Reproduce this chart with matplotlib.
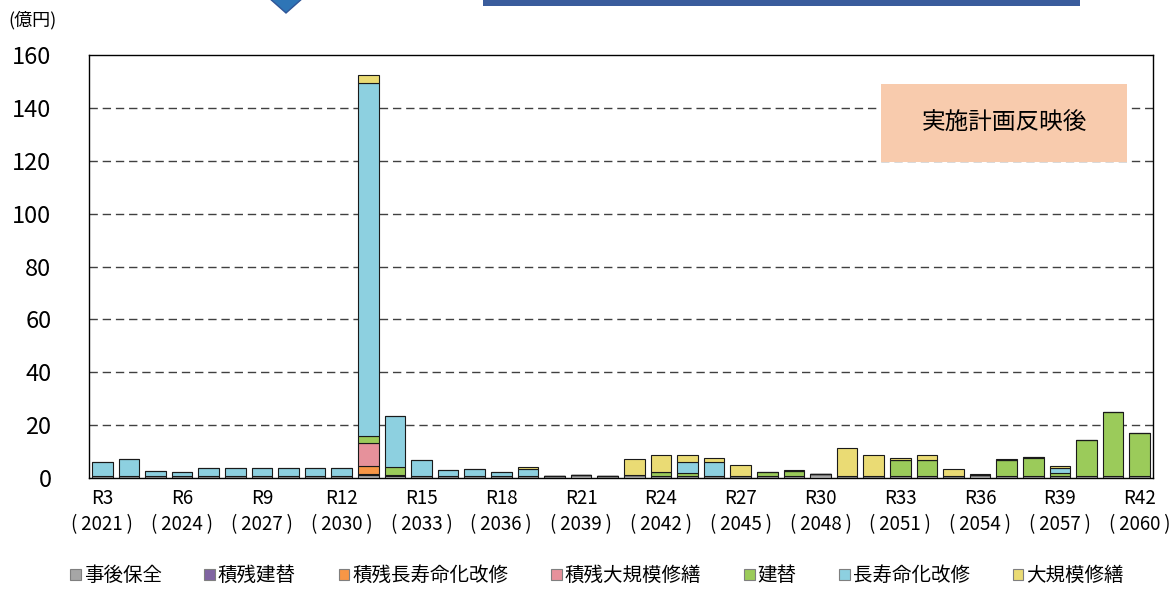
import matplotlib
matplotlib.use("Agg")
import matplotlib.pyplot as plt
import numpy as np
from matplotlib.patches import Patch, Rectangle, Polygon

plt.rcParams["font.family"] = ["Noto Sans CJK JP", "DejaVu Sans"]

# ── data (億円) ──────────────────────────────────────────────────────────────
reiwa = list(range(3, 43))
years = [2018 + r for r in reiwa]

series_names = ["事後保全", "積残建替", "積残長寿命化改修", "積残大規模修繕",
                "建替", "長寿命化改修", "大規模修繕"]
series_colors = ["#A6A6A6", "#8064A2", "#F79646", "#E6919B",
                 "#9BCB5A", "#8DD0E0", "#EADB74"]

jigo_hozen = [0.6, 0.6, 0.6, 0.6, 0.6, 0.6, 0.6, 0.6, 0.6, 0.6,
              1.0, 0.8, 0.6, 0.6, 0.6, 0.6, 0.6, 0.9, 1.1, 0.9,
              1.2, 0.9, 0.9, 0.9, 0.7, 0.7, 0.9, 1.4, 0.6, 0.8,
              0.8, 0.8, 0.7, 1.0, 0.8, 0.8, 0.8, 0.7, 0.7, 0.7]
zan_tatekae = [0] * 10 + [0.7, 0.5] + [0] * 28
zan_choju = [0] * 10 + [2.9] + [0] * 29
zan_daikibo = [0] * 10 + [8.5] + [0] * 29
tatekae = [0, 0, 0, 0, 0, 0, 0, 0, 0, 0,
           2.9, 3.0, 0, 0, 0, 0, 0, 0, 0, 0,
           0, 1.3, 0.9, 0, 0, 1.7, 1.7, 0, 0, 0,
           5.9, 6.0, 0, 0.3, 6.1, 6.8, 1.0, 13.6, 24.1, 16.2]
choju = [5.4, 6.6, 1.9, 1.6, 3.2, 3.2, 3.2, 3.2, 3.2, 3.2,
         133.5, 19.3, 6.3, 2.5, 2.8, 1.5, 2.9, 0, 0, 0,
         0, 0, 4.4, 5.0, 0, 0, 0, 0, 0, 0,
         0, 0, 0, 0, 0, 0.4, 2.0, 0, 0, 0]
daikibo = [0, 0, 0, 0, 0, 0, 0, 0, 0, 0,
           2.8, 0, 0, 0, 0, 0, 0.5, 0, 0, 0,
           5.9, 6.5, 2.5, 1.8, 4.1, 0, 0.3, 0, 10.8, 7.9,
           1.0, 2.0, 2.7, 0.3, 0.4, 0, 0.7, 0, 0, 0]

series = [jigo_hozen, zan_tatekae, zan_choju, zan_daikibo, tatekae, choju, daikibo]

tick_idx = list(range(0, 40, 3))
tick_labels = [f"R{reiwa[i]}\n(\u2009{years[i]}\u2009)" for i in tick_idx]

# ── figure ──────────────────────────────────────────────────────────────────
fig = plt.figure(figsize=(11.75, 5.9), dpi=100)
ax = fig.add_axes([89 / 1175, 112 / 590, 1064 / 1175, 423 / 590])

x = np.arange(len(reiwa))
bottom = np.zeros(len(reiwa))
for name, vals, col in zip(series_names, series, series_colors):
    vals = np.array(vals, dtype=float)
    ax.bar(x, vals, 0.78, bottom=bottom, color=col, edgecolor="#1a1a1a",
           linewidth=0.8, label=name, zorder=3)
    bottom += vals

ax.set_xlim(-0.5, 39.5)
ax.set_ylim(0, 160)
ax.set_yticks(range(0, 161, 20))
ax.tick_params(axis="y", length=0, pad=27, labelsize=17)
ax.set_xticks(tick_idx)
ax.set_xticklabels(tick_labels, fontsize=13.5, linespacing=1.35)
ax.tick_params(axis="x", length=0, pad=7)

for y in range(20, 160, 20):
    ax.axhline(y, color="#404040", lw=1.0, ls=(0, (6, 3.5)), zorder=1)
for s in ax.spines.values():
    s.set_color("black")
    s.set_linewidth(1.0)

# annotation box
ax.add_patch(Rectangle((0.744, 0.747), 0.232, 0.184, transform=ax.transAxes,
                       facecolor="#F8CBAD", edgecolor="none", zorder=4))
ax.text(0.860, 0.839, "実施計画反映後", transform=ax.transAxes, ha="center",
        va="center", fontsize=17, zorder=5)

fig.text(8 / 1175, 1 - 20 / 590, "(億円)", ha="left", va="center",
         fontsize=13)

# clipped shapes at the top edge
fig.patches.append(Polygon([(258 / 1175, 1.02), (314 / 1175, 1.02),
                            (286 / 1175, 1 - 13 / 590)], closed=True,
                           transform=fig.transFigure, facecolor="#2E75B6",
                           edgecolor="#2F5597", lw=1))
fig.patches.append(Rectangle((483 / 1175, 1 - 6 / 590), 597 / 1175, 0.02,
                             transform=fig.transFigure, facecolor="#3A5C9C",
                             edgecolor="none"))

handles = [Patch(facecolor=c, edgecolor="#7f7f7f", lw=0.8) for c in series_colors]
fig.legend(handles, series_names, loc="center", bbox_to_anchor=(0.508, 0.024),
           ncol=7, frameon=False, handlelength=0.55, handleheight=0.55,
           handletextpad=0.15, columnspacing=2.2, prop={"size": 14})

fig.savefig("out.png", dpi=100)
